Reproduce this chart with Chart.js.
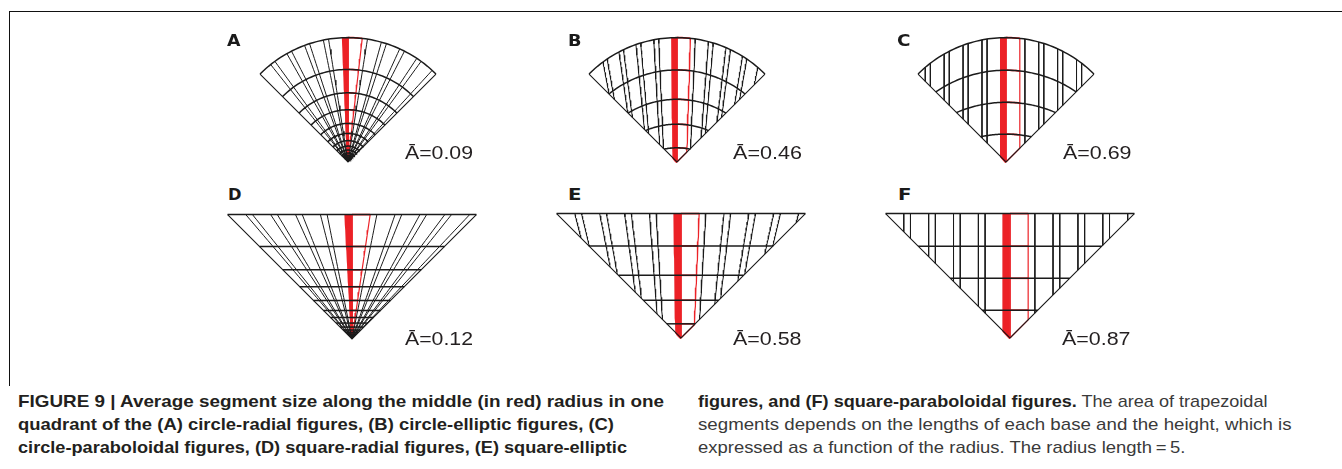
<!DOCTYPE html>
<html>
<head>
<meta charset="utf-8">
<script src="https://cdn.jsdelivr.net/npm/chart.js@4.4.1/dist/chart.umd.min.js"></script>
<style>
    html, body { margin: 0; padding: 0; background: #fff; }
    body { width: 1342px; height: 469px; position: relative; overflow: hidden;
           font-family: "Liberation Sans", Arial, Helvetica, sans-serif; color: #231f20; }
    .moldura { position: absolute; left: 9px; top: 11px; width: 1340px; height: 374px;
               border-top: 1.5px solid #111; border-left: 1.5px solid #111; }
    .letra { position: absolute; font-family: "DejaVu Sans", sans-serif; font-weight: bold;
             font-size: 15px; line-height: 15px; white-space: nowrap; transform-origin: 0 0; color: #1a1a1a; }
    .area { position: absolute; font-size: 19px; line-height: 19px; white-space: nowrap;
            transform-origin: 0 0; color: #231f20; }
    .legenda { position: absolute; font-size: 17px; line-height: 17px; white-space: nowrap;
               transform-origin: 0 0; color: #231f20; }
    .legenda.fina { color: #3a3a3a; }
</style>
</head>
<body>
<div class="moldura"></div>

<script>
/* ============================================================
   Figura 9 - tamanho médio dos segmentos (raio = 5)
   ============================================================ */

// 1. DADOS
const painelLetras = ['A', 'B', 'C', 'D', 'E', 'F'];
const areaMedia = [0.09, 0.46, 0.69, 0.12, 0.58, 0.87];
const tipoContorno = ['circle', 'circle', 'circle', 'square', 'square', 'square'];
const tipoLinhas = ['radial', 'elliptic', 'paraboloidal', 'radial', 'elliptic', 'paraboloidal'];

// distância ao vértice de cada linha transversal (arcos / horizontais)
const niveisRadial = [5, 3.72, 2.78, 2.1, 1.55, 1.15, 0.86, 0.64, 0.48, 0.36, 0.27, 0.2, 0.15, 0.11];
const niveisEliptico = [5, 3.7, 2.52, 1.52, 0.57];
const niveisParaboloide = [5, 3.69, 2.4, 1.12];

// posição das linhas longitudinais na borda de cima
const linhasPos = [-4.27, -4, -3.27, -3, -2.27, -2, -1.27, -1, -0.27, 0, 0.73, 1, 1.73, 2, 2.73, 3, 3.73, 4, 4.73];
const faixaVermelha = [-0.27, 0];   // raio do meio (grosso)
const linhaVermelha = 0.73;         // lado do segmento

// 2. LAYOUT (pixels)
const U = 24.88;                    // px por unidade de raio
const LARG = 272, ALT = 140, BASE = 8;
const vertices = [[348.3, 161.7], [676.7, 161.7], [1006, 161.7], [352.3, 339.3], [680.7, 338.3], [1010, 338.3]];
const letrasXY = [[227, 34], [568, 34], [897, 34], [228, 188], [568, 188], [898, 188]];
const areaXY = [[405, 159, 68], [733, 159, 69], [1063, 159, 68.5], [405, 345, 68], [733, 345, 68.5], [1062, 345, 68.5]];

const PRETO = '#1b1b1b';
const VERMELHO = '#ec2227';
const escalaCirculo = { elliptic: 0.74, paraboloidal: 0.76 };

// --- geometria (unidades do gráfico, vértice na origem) ---
function xLinha(fam, forma, pos, y) {
    if (fam === 'radial') return forma === 'circle' ? y * Math.tan(pos * Math.PI / 20) : pos * y / 5;
    const p = forma === 'circle' ? pos * escalaCirculo[fam] : pos;
    if (fam === 'elliptic') return p * (0.7 + 0.06 * y);
    return p;
}

function bissecao(f, a, b) {
    let fa = f(a);
    for (let i = 0; i < 50; i++) {
        const m = (a + b) / 2, fm = f(m);
        if ((fm < 0) === (fa < 0)) { a = m; fa = fm; } else { b = m; }
    }
    return (a + b) / 2;
}

// curva transversal de um nível: devolve y(x) e o x da borda
function curvaNivel(fam, forma, L) {
    if (forma === 'square') return { y: () => L, xe: L };
    const rho = fam === 'radial' ? L : (fam === 'elliptic' ? (L + 5) / 2 : 5);
    const yc = L - rho;
    const y = x => yc + Math.sqrt(Math.max(rho * rho - x * x, 0));
    const xe = bissecao(x => y(x) - x, 0, L);
    return { y, xe };
}

// pontos de uma linha longitudinal (de cima para baixo)
function pontosLinha(fam, forma, pos) {
    const g = y => y - Math.abs(xLinha(fam, forma, pos, y));
    let y0 = 0;
    if (g(0) < 0) {
        if (g(5) < 0) return null;
        y0 = bissecao(g, 0, 5);
    }
    let yT = 5;
    if (forma === 'circle') {
        const h = y => Math.pow(xLinha(fam, forma, pos, y), 2) + y * y - 25;
        if (h(y0) >= 0) return null;
        yT = bissecao(h, y0, 5);
    }
    const pts = [];
    for (let i = 0; i <= 24; i++) {
        const y = yT - (yT - y0) * i / 24;
        pts.push({ x: xLinha(fam, forma, pos, y), y: y });
    }
    return { pts, y0 };
}

function linha(pts, cor, larg) {
    return { data: pts, showLine: true, borderColor: cor, borderWidth: larg,
             pointRadius: 0, fill: false, tension: 0, clip: false };
}

function montarDatasets(forma, fam) {
    const niveis = fam === 'radial' ? niveisRadial : (fam === 'elliptic' ? niveisEliptico : niveisParaboloide);
    const ds = [];

    // linhas transversais (pretas)
    niveis.forEach(L => {
        const c = curvaNivel(fam, forma, L);
        const pts = [];
        for (let i = 0; i <= 60; i++) {
            const x = -c.xe + 2 * c.xe * i / 60;
            pts.push({ x, y: c.y(x) });
        }
        ds.push(linha(pts, PRETO, 1.5));
    });

    // linhas longitudinais (pretas)
    linhasPos.forEach(pos => {
        if (pos === linhaVermelha || (pos >= faixaVermelha[0] && pos <= faixaVermelha[1])) return;
        const l = pontosLinha(fam, forma, pos);
        if (l) ds.push(linha(l.pts, PRETO, 1));
    });

    // bordas laterais
    const canto = forma === 'circle' ? 5 / Math.SQRT2 : 5;
    ds.push(linha([{ x: -canto, y: canto }, { x: 0, y: 0 }, { x: canto, y: canto }], PRETO, 1.1));

    // segmentos vermelhos ao longo do raio do meio
    niveis.forEach(L => {
        const c = curvaNivel(fam, forma, L);
        let y = L, x = 0;
        for (let k = 0; k < 10; k++) { x = xLinha(fam, forma, linhaVermelha, y); y = c.y(x); }
        const xr = Math.min(x, c.xe);
        const pts = [];
        for (let i = 0; i <= 8; i++) { const xx = xr * i / 8; pts.push({ x: xx, y: c.y(xx) }); }
        ds.push(linha(pts, VERMELHO, 1.7));
    });

    // lado vermelho fino
    const lv = pontosLinha(fam, forma, linhaVermelha);
    if (lv) {
        const pts = lv.pts.slice();
        if (lv.y0 > 0) pts.push({ x: 0, y: 0 });
        ds.push(linha(pts, VERMELHO, 1.2));
    }

    // faixa grossa vermelha (preenchida com traços lado a lado)
    for (let t = 0; t <= 6; t++) {
        const pos = faixaVermelha[0] + (faixaVermelha[1] - faixaVermelha[0]) * t / 6;
        const l = pontosLinha(fam, forma, pos);
        if (!l) continue;
        const pts = l.pts.slice();
        if (l.y0 > 0) pts.push({ x: 0, y: 0 });
        ds.push(linha(pts, VERMELHO, 1.8));
    }
    return ds;
}

function criarPainel(i) {
    const [ax, ay] = vertices[i];
    const canvas = document.createElement('canvas');
    canvas.width = LARG; canvas.height = ALT;
    canvas.style.cssText = `position:absolute;left:${ax - LARG / 2}px;top:${ay + BASE - ALT}px;width:${LARG}px;height:${ALT}px;`;
    document.body.appendChild(canvas);
    const meio = LARG / 2 / U;
    new Chart(canvas, {
        type: 'scatter',
        data: { datasets: montarDatasets(tipoContorno[i], tipoLinhas[i]) },
        options: {
            responsive: false,
            animation: false,
            devicePixelRatio: 1,
            events: [],
            layout: { padding: 0 },
            plugins: { legend: { display: false }, tooltip: { enabled: false } },
            scales: {
                x: { type: 'linear', min: -meio, max: meio, display: false },
                y: { type: 'linear', min: -BASE / U, max: (ALT - BASE) / U, display: false }
            }
        }
    });
}

// 3. TEXTOS
function texto(cls, html, x, topo, largura) {
    const d = document.createElement('div');
    d.className = cls;
    d.innerHTML = html;
    d.style.left = x + 'px';
    d.style.top = topo + 'px';
    document.body.appendChild(d);
    if (largura) {
        const w = d.getBoundingClientRect().width;
        d.style.transform = `scaleX(${largura / w})`;
    }
    return d;
}

painelLetras.forEach((_, i) => criarPainel(i));

painelLetras.forEach((letra, i) => {
    texto('letra', letra, letrasXY[i][0], letrasXY[i][1] - 0.5, 13.5);
    const [x, base, w] = areaXY[i];
    texto('area', 'Ā=' + areaMedia[i].toFixed(2), x, base - 16.1, w);
});

const legendaLinhas = [
    ['legenda', '<b>FIGURE 9 | Average segment size along the middle (in red) radius in one</b>', 18, 393, 646],
    ['legenda', '<b>quadrant of the (A) circle-radial figures, (B) circle-elliptic figures, (C)</b>', 18, 416, 596],
    ['legenda', '<b>circle-paraboloidal figures, (D) square-radial figures, (E) square-elliptic</b>', 18, 439, 609],
    ['legenda fina', '<b style="color:#231f20">figures, and (F) square-paraboloidal figures.</b> The area of trapezoidal', 697.5, 393, 569.5],
    ['legenda fina', 'segments depends on the lengths of each base and the height, which is', 697.5, 416, 593.5],
    ['legenda fina', 'expressed as a function of the radius. The radius length\u2009=\u20095.', 697.5, 439, 487.5]
];
legendaLinhas.forEach(l => texto(l[0], l[1], l[2], l[3], l[4]));
</script>
</body>
</html>
